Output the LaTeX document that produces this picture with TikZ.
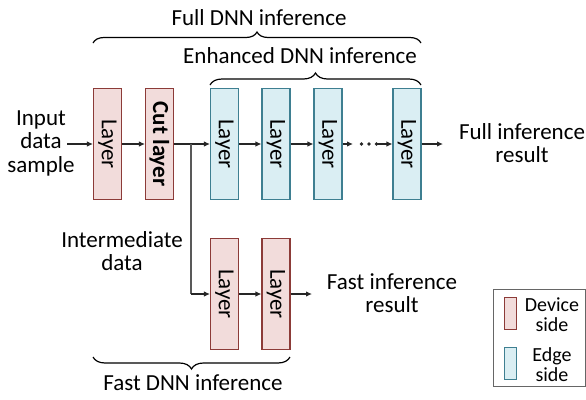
\documentclass[tikz,border=0pt]{standalone}
\usepackage{fontspec}
\setmainfont{Carlito}
\usetikzlibrary{decorations.pathreplacing,arrows.meta}
\definecolor{devfill}{HTML}{F2DCDB}
\definecolor{devdraw}{HTML}{8C3B38}
\definecolor{edgfill}{HTML}{DAEEF3}
\definecolor{edgdraw}{HTML}{3E7F91}
\definecolor{arrcol}{HTML}{262626}
\definecolor{brcol}{HTML}{595959}
\begin{document}
\begin{tikzpicture}[x=1pt,y=-1pt,
  lbl/.style={font=\fontsize{23}{23.5}\selectfont, align=center, inner sep=0pt, text=black},
  leg/.style={font=\fontsize{20}{19.5}\selectfont, align=center, inner sep=0pt, text=black},
  layerbox/.style={line width=1.1pt, minimum width=28pt, minimum height=111pt, inner sep=0pt, font=\fontsize{23}{24}\selectfont},
  devbox/.style={layerbox, draw=devdraw, fill=devfill},
  edgbox/.style={layerbox, draw=edgdraw, fill=edgfill},
  arr/.style={-{Latex[length=6pt,width=5.5pt]}, line width=1.1pt, draw=arrcol},
  brc/.style={decorate, decoration={brace, amplitude=11pt, raise=0pt}, line width=1.2pt, draw=black}
]
\useasboundingbox (0,0) rectangle (586,399);

% top row
\node[devbox] (b1) at (107.5,144) {\rotatebox{-90}{Layer}};
\node[devbox] (b2) at (159.5,144) {\rotatebox{-90}{\bfseries Cut layer}};
\node[edgbox] (b3) at (224.5,144) {\rotatebox{-90}{Layer}};
\node[edgbox] (b4) at (276,144) {\rotatebox{-90}{Layer}};
\node[edgbox] (b5) at (328,144) {\rotatebox{-90}{Layer}};
\node[edgbox] (b6) at (407,144) {\rotatebox{-90}{Layer}};

% bottom row
\node[devbox] (c1) at (224.5,294) {\rotatebox{-90}{Layer}};
\node[devbox] (c2) at (276,294) {\rotatebox{-90}{Layer}};

% texts
\node[lbl] (inp) at (41,143) {Input\\data\\sample};
\node[lbl] (full) at (522,143) {Full inference\\result};
\node[lbl] (inter) at (122,251) {Intermediate\\data};
\node[lbl] (fast) at (392,293) {Fast inference\\result};
\node[lbl] (tfull) at (259,18) {Full DNN inference};
\node[lbl] (tenh) at (300,56) {Enhanced DNN inference};
\node[lbl] (tfast) at (193,383) {Fast DNN inference};

% connector coordinates
\coordinate (inA) at (67,144);
\coordinate (d1) at (353,144);
\coordinate (d2) at (376.5,144);
\coordinate (outF) at (443,144);
\coordinate (outS) at (312,294);
\coordinate (br) at (191,144);

\draw[arr] (inA) -- (b1.west);
\draw[arr] (b1.east) -- (b2.west);
\draw[arr] (b2.east) -- (b3.west);
\draw[arr] (b3.east) -- (b4.west);
\draw[arr] (b4.east) -- (b5.west);
\draw[arr] (b5.east) -- (d1);
\foreach \xx in {361.5,369,376.5} \fill[arrcol] (\xx,144) circle (1.9pt);
\draw[arr] (d2) -- (b6.west);
\draw[arr] (b6.east) -- (outF);
\draw[line width=1.1pt, draw=brcol] (br) -- (br |- c1.west);
\draw[arr] (br |- c1.west) -- (c1.west);
\draw[arr] (c1.east) -- (c2.west);
\draw[arr] (c2.east) -- (outS);

% braces
\coordinate (fa) at (93,43);
\coordinate (fb) at (421,43);
\coordinate (ea) at (210,85);
\coordinate (eb) at (421,85);
\coordinate (sa) at (290,357);
\coordinate (sb) at (93,357);
\draw[brc] (fa) -- (fb);
\draw[brc, decoration={amplitude=12pt}] (ea) -- (eb);
\draw[brc, decoration={amplitude=12pt}] (sa) -- (sb);

% legend
\node[draw=black!60, line width=1.1pt, minimum width=92pt, minimum height=97pt, inner sep=0pt] (legend) at (539.2,338) {};
\node[draw=devdraw, fill=devfill, line width=1pt, minimum width=12pt, minimum height=32pt, inner sep=0pt] (ldev) at (510.5,313.5) {};
\node[draw=edgdraw, fill=edgfill, line width=1pt, minimum width=12pt, minimum height=32pt, inner sep=0pt] (ledg) at (510.5,363.5) {};
\node[leg] (tdev) at (552,314.5) {Device\\side};
\node[leg] (tedg) at (552,364.5) {Edge\\side};
\end{tikzpicture}
\end{document}
